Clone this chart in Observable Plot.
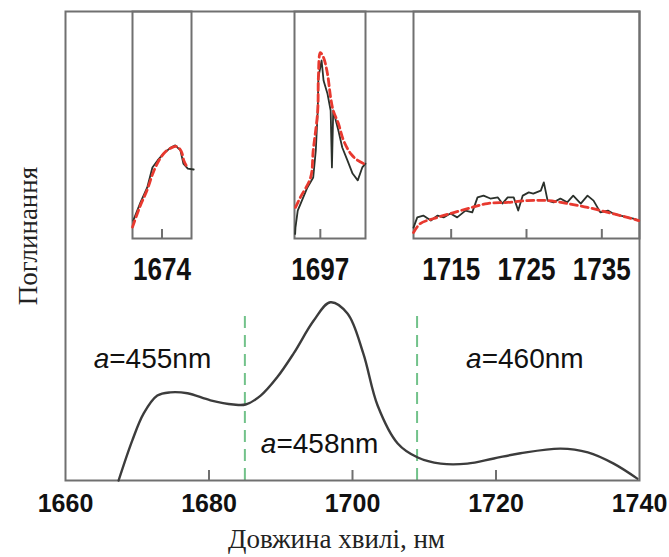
<!DOCTYPE html>
<html><head><meta charset="utf-8">
<script src="https://cdn.jsdelivr.net/npm/d3@7"></script>
<script src="https://cdn.jsdelivr.net/npm/@observablehq/plot@0.6"></script>
<style>
html,body{margin:0;padding:0;background:#fff;overflow:hidden}
#chart{position:relative;width:669px;height:557px;background:#fff}
#chart svg{position:absolute;overflow:visible}
</style></head><body><div id="chart"></div>
<script>
// Main absorption band (wavelength, nm / absorbance, a.u.)
const mainWl = [1667.4, 1669.3, 1670.9, 1672.8, 1674.6, 1677.0, 1680.2, 1683.4, 1685.1, 1687.2, 1689.5, 1691.8, 1694.6, 1696.9, 1699.3, 1701.5, 1703.5, 1706.3, 1709.1, 1712.3, 1716.0, 1719.7, 1723.4, 1729.0, 1732.8, 1736.4, 1739.7];
const mainAbs = [0.0, 0.085, 0.143, 0.181, 0.188, 0.186, 0.171, 0.162, 0.162, 0.181, 0.220, 0.271, 0.341, 0.380, 0.356, 0.271, 0.160, 0.079, 0.049, 0.036, 0.036, 0.047, 0.058, 0.068, 0.060, 0.036, 0.004];
const mainTicks = [1660, 1680, 1700, 1720, 1740];

// Region boundaries and lattice-constant labels
const dividers = [1685, 1709];
const dividerTop = 0.35;
const annoX = [1666.1, 1689.4, 1718.0];
const annoY = [0.258, 0.077, 0.26];
const annoText = ["=455nm", "=458nm", "=460nm"];

// Axis titles
const xTitle = "Довжина хвилі, нм";
const yTitle = "Поглинання";

// Inset 1: band near 1674 nm (measured / model)
const in1Wl = [1670.1, 1671.1, 1672.0, 1672.7, 1673.4, 1674.2, 1675.2, 1675.8, 1676.5, 1676.9, 1677.5, 1678.3];
const in1Meas = [0.079, 0.160, 0.225, 0.313, 0.344, 0.374, 0.401, 0.410, 0.388, 0.330, 0.308, 0.304];
const in1ModelWl = [1670.0, 1671.0, 1672.0, 1672.8, 1673.6, 1674.4, 1675.3, 1676.0, 1676.6, 1677.0, 1677.5];
const in1Model = [0.050, 0.140, 0.215, 0.290, 0.345, 0.380, 0.400, 0.405, 0.385, 0.340, 0.310];
const in1Ticks = [1674];

// Inset 2: band near 1697 nm
const in2Wl = [1693.1, 1693.15, 1693.5, 1695.0, 1695.9, 1696.3, 1696.6, 1696.7, 1697.2, 1697.5, 1698.1, 1698.6, 1698.8, 1699.0, 1699.8, 1700.4, 1701.2, 1702.0, 1702.8, 1703.5, 1704.0];
const in2Meas = [0.02, 0.048, 0.123, 0.225, 0.269, 0.388, 0.564, 0.709, 0.784, 0.696, 0.639, 0.564, 0.313, 0.564, 0.476, 0.401, 0.344, 0.286, 0.256, 0.313, 0.330];
const in2ModelWl = [1693.15, 1693.9, 1695.5, 1695.9, 1696.6, 1696.7, 1697.0, 1697.5, 1698.1, 1698.6, 1699.0, 1699.8, 1700.6, 1701.7, 1702.8, 1703.7];
const in2Model = [0.137, 0.181, 0.269, 0.388, 0.564, 0.709, 0.819, 0.797, 0.727, 0.621, 0.564, 0.507, 0.432, 0.374, 0.344, 0.330];
const in2Ticks = [1697];

// Inset 3: band 1710–1740 nm
const in3Wl = [1710.0, 1710.5, 1711.3, 1712.3, 1713.2, 1714.0, 1714.9, 1715.8, 1716.9, 1717.8, 1718.5, 1719.3, 1720.2, 1721.2, 1721.8, 1722.5, 1723.3, 1723.9, 1724.5, 1725.3, 1725.9, 1726.9, 1727.3, 1727.8, 1728.6, 1729.5, 1730.4, 1731.2, 1732.2, 1733.1, 1733.9, 1734.8, 1735.8, 1736.5, 1737.5, 1738.4, 1739.2, 1739.9];
const in3Meas = [0.048, 0.093, 0.101, 0.079, 0.101, 0.093, 0.110, 0.093, 0.123, 0.115, 0.181, 0.189, 0.176, 0.181, 0.154, 0.181, 0.181, 0.123, 0.189, 0.203, 0.198, 0.211, 0.247, 0.167, 0.159, 0.176, 0.159, 0.189, 0.154, 0.189, 0.167, 0.115, 0.123, 0.110, 0.101, 0.093, 0.088, 0.079];
const in3ModelWl = [1710.0, 1710.9, 1712.7, 1714.9, 1717.2, 1719.8, 1722.5, 1725.1, 1727.8, 1730.4, 1733.1, 1735.8, 1738.4, 1739.9];
const in3Model = [0.026, 0.066, 0.088, 0.110, 0.132, 0.154, 0.159, 0.167, 0.167, 0.154, 0.137, 0.115, 0.093, 0.079];
const in3Ticks = [1715, 1725, 1735];

const frameColor = "#707070";
const curveColor = "#3c3c3c";
const measColor = "#2b312b";
const modelColor = "#e8392f";
const dividerColor = "#72c28a";
const sansBold = "'Liberation Sans', Arial, sans-serif";
const serif = "'Liberation Serif', 'Times New Roman', serif";

const zip = (xs, ys) => xs.map((x, i) => ({x, y: ys[i]}));
const chart = document.getElementById("chart");

// ---- main panel ----
const main = Plot.plot({
  width: 669, height: 557,
  marginLeft: 65, marginRight: 30, marginTop: 11, marginBottom: 77,
  x: {domain: [1660, 1740]},
  y: {domain: [0, 1], axis: null},
  marks: [
    Plot.ruleX(dividers, {y1: 0, y2: dividerTop, stroke: dividerColor, strokeWidth: 2, strokeDasharray: "12,7"}),
    Plot.ruleX(mainTicks.slice(1, -1), {y1: 0, y2: 10 / 469, stroke: frameColor, strokeWidth: 2}),
    Plot.frame({stroke: frameColor, strokeWidth: 2}),
    Plot.line(zip(mainWl, mainAbs), {x: "x", y: "y", stroke: curveColor, strokeWidth: 2.4, curve: "catmull-rom"}),
    Plot.axisX({ticks: mainTicks, tickFormat: d => String(d), tickSize: 0, tickPadding: 14, label: null,
      fontSize: 25, fontWeight: "bold", fontFamily: sansBold, fill: "#111"}),
    Plot.text(annoText.map((t, i) => ({x: annoX[i], y: annoY[i]})), {x: "x", y: "y", text: () => "a",
      textAnchor: "end", fontStyle: "italic", fontSize: 28, fontFamily: sansBold, fill: "#111"}),
    Plot.text(annoText.map((t, i) => ({x: annoX[i], y: annoY[i], t})), {x: "x", y: "y", text: "t",
      textAnchor: "start", fontSize: 28, fontFamily: sansBold, fill: "#111"}),
    Plot.text([xTitle], {frameAnchor: "bottom", dx: -16, dy: 67, fontSize: 27, fontFamily: serif, fill: "#222"}),
    Plot.text([yTitle], {frameAnchor: "left", textAnchor: "middle", dx: -37, dy: -10, rotate: -90, fontSize: 27,
      fontFamily: serif, fill: "#222"})
  ]
});
main.style.left = "0px"; main.style.top = "0px";
chart.appendChild(main);

// ---- insets ----
function inset({domain, left, right, ticks, meas, model}) {
  const mL = 40, mR = 40, mT = 2, frameH = 227;
  const svg = Plot.plot({
    width: (right - left) + mL + mR, height: frameH + mT + 50,
    marginLeft: mL, marginRight: mR, marginTop: mT, marginBottom: 50,
    x: {domain},
    y: {domain: [0, 1], axis: null},
    marks: [
      Plot.ruleX(ticks, {y1: 0, y2: 9 / frameH, stroke: frameColor, strokeWidth: 2}),
      Plot.frame({stroke: frameColor, strokeWidth: 2}),
      Plot.line(meas, {x: "x", y: "y", stroke: measColor, strokeWidth: 1.8}),
      Plot.line(model, {x: "x", y: "y", stroke: modelColor, strokeWidth: 2.8, strokeDasharray: "7,4", curve: "catmull-rom"}),
      Plot.axisX({ticks, tickFormat: d => String(d), tickSize: 0, tickPadding: 19, label: null,
        fontSize: 31, fontWeight: "bold", fontFamily: sansBold, fill: "#111"})
    ]
  });
  // condensed tick labels
  svg.querySelectorAll('g[aria-label="x-axis tick label"] text').forEach(t => {
    t.setAttribute("textLength", 58);
    t.setAttribute("lengthAdjust", "spacingAndGlyphs");
  });
  svg.style.left = (left - mL) + "px";
  svg.style.top = (11 - mT) + "px";
  chart.appendChild(svg);
}

inset({domain: [1670, 1678], left: 132, right: 191, ticks: in1Ticks, meas: zip(in1Wl, in1Meas), model: zip(in1ModelWl, in1Model)});
inset({domain: [1693, 1704], left: 294, right: 365, ticks: in2Ticks, meas: zip(in2Wl, in2Meas), model: zip(in2ModelWl, in2Model)});
inset({domain: [1710, 1740], left: 413, right: 639, ticks: in3Ticks, meas: zip(in3Wl, in3Meas), model: zip(in3ModelWl, in3Model)});
</script></body></html>
